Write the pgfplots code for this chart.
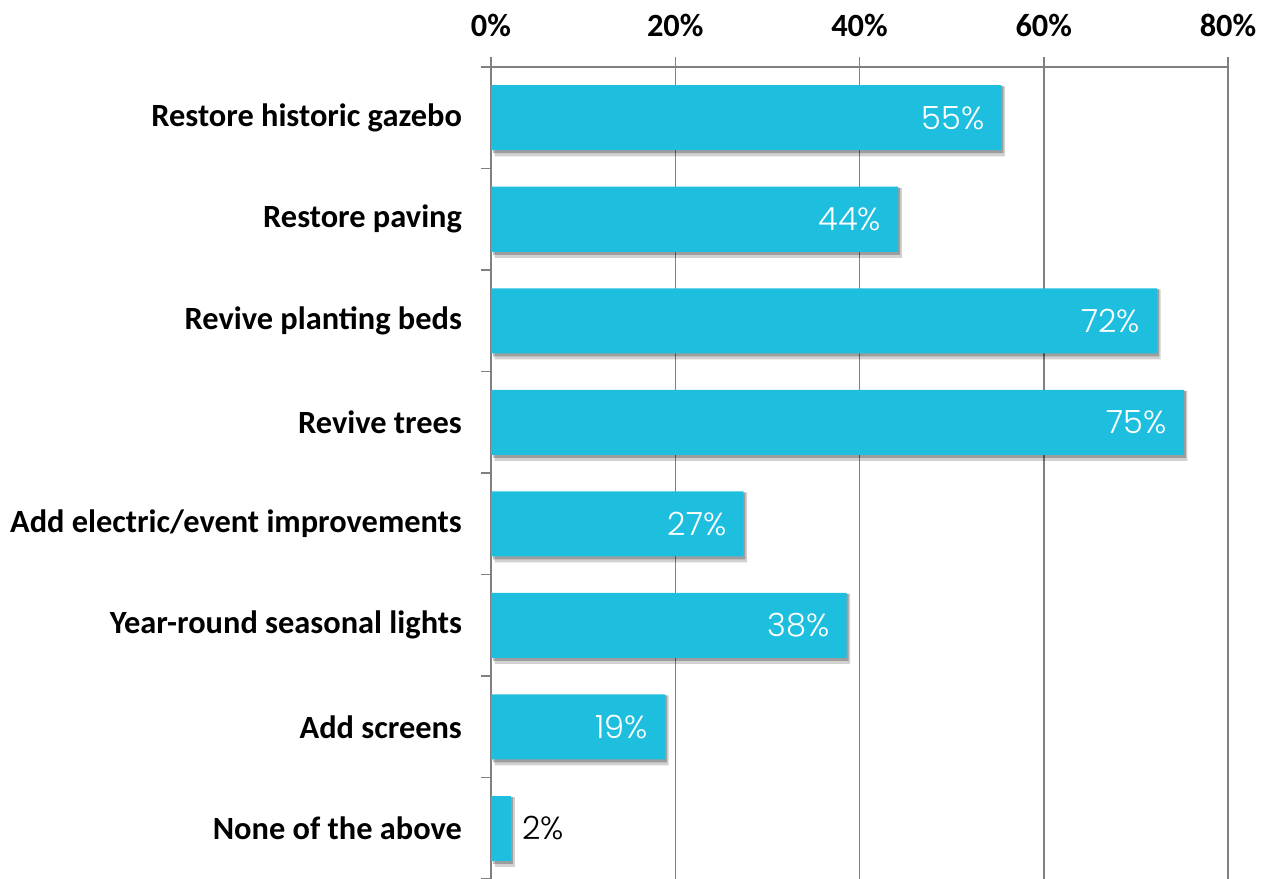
\documentclass[border=0pt]{standalone}
\usepackage{fontspec}
\setmainfont{Carlito}
\newfontfamily\valfont{Poppins Light}
\usepackage{pgfplots}
\usepackage{pgfplotstable}
\pgfplotsset{compat=1.18}
\usetikzlibrary{calc}

\definecolor{barcyan}{RGB}{29,190,222}
\definecolor{gridgray}{RGB}{128,128,128}

% values; lab = printed label
\pgfplotstableread{
x y lab
55.4 0 55
44.2 1 44
72.3 2 72
75.2 3 75
27.4 4 27
38.6 5 38
18.9 6 19
}\inside
\pgfplotstableread{
x y lab
2.2 7 2
}\outside

\begin{document}
\begin{tikzpicture}
\begin{axis}[
  scale only axis, width=368.5pt, height=406pt,
  xmin=0, xmax=80, ymin=-0.5, ymax=7.5, y dir=reverse,
  axis x line*=top, axis y line*=left,
  axis line style={gridgray, line width=0.75pt},
  xtick={0,20,40,60,80}, xticklabels={0\%,20\%,40\%,60\%,80\%},
  xmajorgrids, grid style={gridgray, line width=0.75pt},
  tick align=outside, major tick length=5pt,
  tick style={gridgray, line width=0.75pt},
  ytick={0,...,7},
  yticklabels={Restore historic gazebo, Restore paving, Revive planting beds, Revive trees,
    Add electric/event improvements, Year-round seasonal lights, Add screens, None of the above},
  y tick style={draw=none},
  extra y ticks={-0.5,0.5,...,7.5}, extra y tick labels={},
  extra y tick style={y tick style={draw=gridgray, line width=0.75pt}},
  tick label style={font=\bfseries\fontsize{16.2}{19}\selectfont, black},
  yticklabel style={xshift=-6pt},
  xticklabel style={yshift=6.5pt},
  xbar, bar width=32.5pt, bar shift=0pt,
]
% soft shadow
\addplot[fill=black, draw=none, opacity=0.18, xshift=1.8pt, yshift=-1.8pt, bar width=35pt] table[x=x, y=y]{\inside};
\addplot[fill=black, draw=none, opacity=0.18, xshift=1.8pt, yshift=-1.8pt, bar width=35pt] table[x=x, y=y]{\outside};
\addplot[fill=black, draw=none, opacity=0.25, xshift=1pt, yshift=-1pt, bar width=33.5pt] table[x=x, y=y]{\inside};
\addplot[fill=black, draw=none, opacity=0.25, xshift=1pt, yshift=-1pt, bar width=33.5pt] table[x=x, y=y]{\outside};
% bars
\addplot[fill=barcyan, draw=none, point meta=explicit symbolic,
  nodes near coords={\pgfplotspointmeta\%},
  every node near coord/.append style={anchor=east, xshift=-5pt, text=white,
    font=\valfont\fontsize{16}{18}\selectfont}]
  table[x=x, y=y, meta=lab]{\inside};
\addplot[fill=barcyan, draw=none, point meta=explicit symbolic,
  nodes near coords={\pgfplotspointmeta\%},
  every node near coord/.append style={anchor=west, xshift=2pt, text=black,
    font=\valfont\fontsize{16}{18}\selectfont}]
  table[x=x, y=y, meta=lab]{\outside};
\end{axis}
\pgfresetboundingbox
\path[use as bounding box] ($(current axis.south west)+(-245.5pt,0pt)$) rectangle ($(current axis.north east)+(17.5pt,33.5pt)$);
\end{tikzpicture}
\end{document}
